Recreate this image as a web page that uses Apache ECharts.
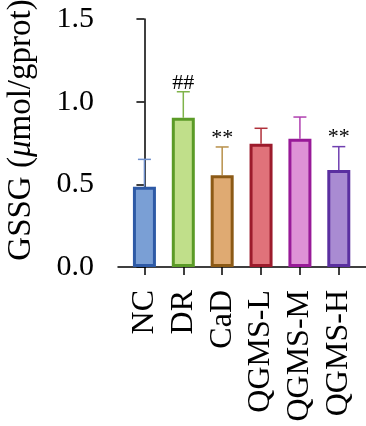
<!DOCTYPE html>
<html>
<head>
<meta charset="utf-8">
<script src="https://cdn.jsdelivr.net/npm/echarts@6/dist/echarts.min.js"></script>
<style>
  html,body{margin:0;padding:0;background:#fff;}
  #chart{width:366px;height:426px;}
</style>
</head>
<body>
<div id="chart"></div>
<script>
// groups and values (mean, mean + SD)
var groups = ['NC', 'DR', 'CaD', 'QGMS-L', 'QGMS-M', 'QGMS-H'];
var means = [0.486, 0.903, 0.555, 0.746, 0.776, 0.587];
var upper = [0.651, 1.060, 0.726, 0.839, 0.907, 0.728];
var marks = ['', '##', '**', '', '', '**'];
var yTicks = [0, 0.5, 1.0, 1.5];

var fills   = ['#7a9fd5', '#c0df8a', '#dfaa72', '#e0727a', '#de92d6', '#a98bd2'];
var borders = ['#2e5aa6', '#5b9b27', '#8c5a16', '#9c1b2c', '#981a98', '#5a2fa0'];
var errCols = ['#6e8fcc', '#7fb34a', '#b8904a', '#b0303a', '#b040b0', '#7040b0'];

var font = 'Liberation Serif';
var chart = echarts.init(document.getElementById('chart'));

var barData = means.map(function(v, i){
  return {
    value: [i, v],
    itemStyle: { color: fills[i], borderColor: borders[i], borderWidth: 3 }
  };
});
var errData = means.map(function(v, i){ return [i, v, upper[i]]; });
var idx = groups.map(function(g, i){ return i; });

var option = {
  animation: false,
  grid: { left: 118, right: 0, top: 19, bottom: 159, outerBoundsMode: 'none', containLabel: false },
  xAxis: {
    type: 'value',
    min: -0.68,
    max: 5.7,
    splitLine: { show: false },
    axisLine: { show: true, onZero: false, lineStyle: { color: '#000', width: 1.5 } },
    axisTick: { show: true, customValues: idx, length: 8, lineStyle: { color: '#000', width: 1.5 } },
    axisLabel: {
      customValues: idx,
      rotate: 90,
      margin: 23,
      color: '#000',
      fontFamily: font,
      fontSize: 32,
      formatter: function(v){ return groups[Math.round(v)]; }
    }
  },
  yAxis: {
    type: 'value',
    min: 0,
    max: 1.5,
    interval: 0.5,
    splitLine: { show: false },
    axisLine: { show: true, lineStyle: { color: '#000', width: 1.5 } },
    axisTick: { show: true, length: 8, lineStyle: { color: '#000', width: 1.5 } },
    axisLabel: {
      margin: 24,
      color: '#000',
      fontFamily: font,
      fontSize: 30,
      formatter: function(v){ return v.toFixed(1); }
    },
    name: '{n|GSSG (}{i|\u03bc}{n|mol/gprot)}',
    nameLocation: 'middle',
    nameRotate: 90,
    nameGap: 80,
    nameTextStyle: {
      padding: [0, 0, 0, 26],
      rich: {
        n: { fontFamily: font, fontSize: 33, color: '#000' },
        i: { fontFamily: font, fontSize: 33, fontStyle: 'italic', color: '#000' }
      }
    }
  },
  series: [
    {
      type: 'custom',
      z: 1,
      data: errData,
      renderItem: function(params, api){
        var i = api.value(0);
        var base = api.coord([i, api.value(1)]);
        var top = api.coord([i, api.value(2)]);
        var half = 6.5;
        var col = errCols[i];
        var children = [
          { type: 'line', shape: { x1: base[0], y1: base[1], x2: top[0], y2: top[1] },
            style: { stroke: col, lineWidth: 1.5 } },
          { type: 'line', shape: { x1: top[0] - half, y1: top[1], x2: top[0] + half, y2: top[1] },
            style: { stroke: col, lineWidth: 1.5 } }
        ];
        if (marks[i]) {
          children.push({
            type: 'text',
            style: {
              x: top[0], y: top[1] + 2,
              text: marks[i],
              fill: '#000',
              font: '22px "' + font + '"',
              textAlign: 'center',
              textVerticalAlign: 'bottom'
            }
          });
        }
        return { type: 'group', children: children };
      }
    },
    {
      type: 'bar',
      z: 2,
      barWidth: 23,
      data: barData
    }
  ]
};

chart.setOption(option);
</script>
</body>
</html>
